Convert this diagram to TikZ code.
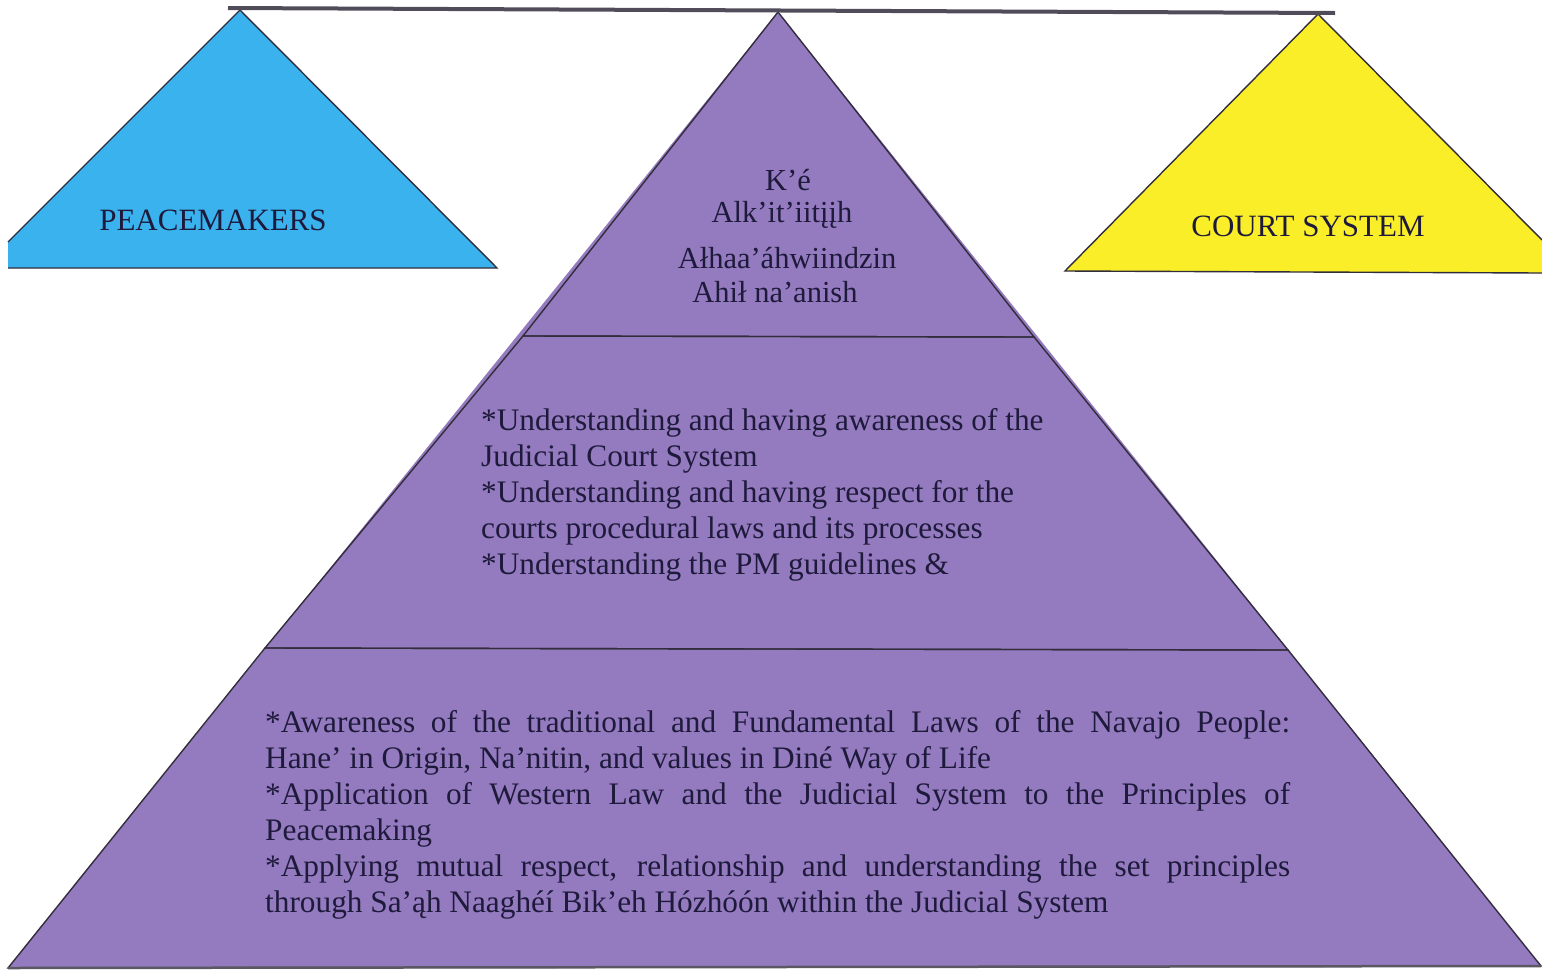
\documentclass[tikz,border=0pt]{standalone}
\usepackage{fontspec}
\IfFontExistsTF{LiberationSerif-Regular.ttf}
  {\setmainfont{LiberationSerif-Regular.ttf}[BoldFont=LiberationSerif-Bold.ttf,ItalicFont=LiberationSerif-Italic.ttf]}
  {\setmainfont{Liberation Serif}}
\definecolor{pmblue}{RGB}{58,178,238}
\definecolor{csyellow}{RGB}{250,238,40}
\definecolor{pyr}{RGB}{148,122,190}
\definecolor{ink}{RGB}{30,26,60}
\definecolor{edge}{RGB}{50,45,60}
\tikzset{
  tri/.style={draw=edge, line width=1.4pt, line join=miter},
  body/.style={inner sep=0pt, text=ink, font=\fontsize{31.3}{36}\selectfont},
  toptext/.style={inner sep=0pt, text=ink, font=\fontsize{30.5}{36}\selectfont},
  label/.style={inner sep=0pt, text=ink, font=\fontsize{31}{36}\selectfont},
}
\begin{document}
\begin{tikzpicture}[x=1pt,y=-1pt]
\useasboundingbox (0,0) rectangle (1542,978);
\fill[white] (0,0) rectangle (1542,978);
% coordinates
\coordinate (apex) at (778,12);
\coordinate (t1l) at (523,336);
\coordinate (t1r) at (1034,337);
\coordinate (t2l) at (265,648);
\coordinate (t2r) at (1288,650);
\coordinate (bl) at (8,968);
\coordinate (br) at (1541,966);
% pyramid
\fill[pyr] (apex) -- (br) -- (bl) -- cycle;
\draw[tri] (apex) -- (t1r) -- (t1l) -- cycle;
\draw[tri] (t1l) -- (t1r) -- (t2r) -- (t2l) -- cycle;
\draw[tri] (t2l) -- (t2r) -- (br) -- (bl) -- cycle;
\draw[line width=2.5pt, color=edge!80!white] (bl) -- (br);
% peacemakers triangle
\coordinate (pa) at (240,10);
\coordinate (pr) at (497,268);
\coordinate (pl) at (8,268);
\coordinate (pc) at (8,242);
\fill[pmblue] (pa) -- (pr) -- (pl) -- (pc) -- cycle;
\draw[tri] (pc) -- (pa) -- (pr) -- (pl);
% court system triangle
\coordinate (ca) at (1318,14);
\coordinate (cl) at (1065,271);
\coordinate (cr) at (1542,273);
\coordinate (cc) at (1542,240);
\fill[csyellow] (ca) -- (cc) -- (cr) -- (cl) -- cycle;
\draw[tri] (cc) -- (ca) -- (cl) -- (cr);
% beam
\coordinate (beamL) at (228,8);
\coordinate (beamR) at (1335,13);
\draw[line width=4pt, color=edge!85!white] (beamL) -- (beamR);
% labels
\node[label, anchor=base] (pm) at (213,230) {PEACEMAKERS};
\node[label, anchor=base] (cs) at (1308,236) {COURT SYSTEM};
\node[toptext, anchor=base] (ke) at (788,190) {K’é};
\node[toptext, anchor=base] (alk) at (782,222) {Alk’it’iitįįh};
\node[toptext, anchor=base] (alh) at (787,268) {Ałhaa’áhwiindzin};
\node[toptext, anchor=base] (ahi) at (775,302) {Ahił na’anish};
\node[body, anchor=north west, align=left] (mid) at (481,408)
  {*Understanding and having awareness of the\\
   Judicial Court System\\
   {}*Understanding and having respect for the\\
   courts procedural laws and its processes\\
   {}*Understanding the PM guidelines \&};
\node[body, anchor=north west, text width=1025pt, align=justify] (bot) at (265,710)
  {*Awareness of the traditional and Fundamental Laws of the Navajo People:\linebreak
   Hane’ in Origin, Na’nitin, and values in Diné Way of Life\\
   {}*Application of Western Law and the Judicial System to the Principles of\linebreak
   Peacemaking\\
   {}*Applying mutual respect, relationship and understanding the set principles\linebreak
   through Sa’ąh Naaghéí Bik’eh Hózhóón within the Judicial System};
\end{tikzpicture}
\end{document}
